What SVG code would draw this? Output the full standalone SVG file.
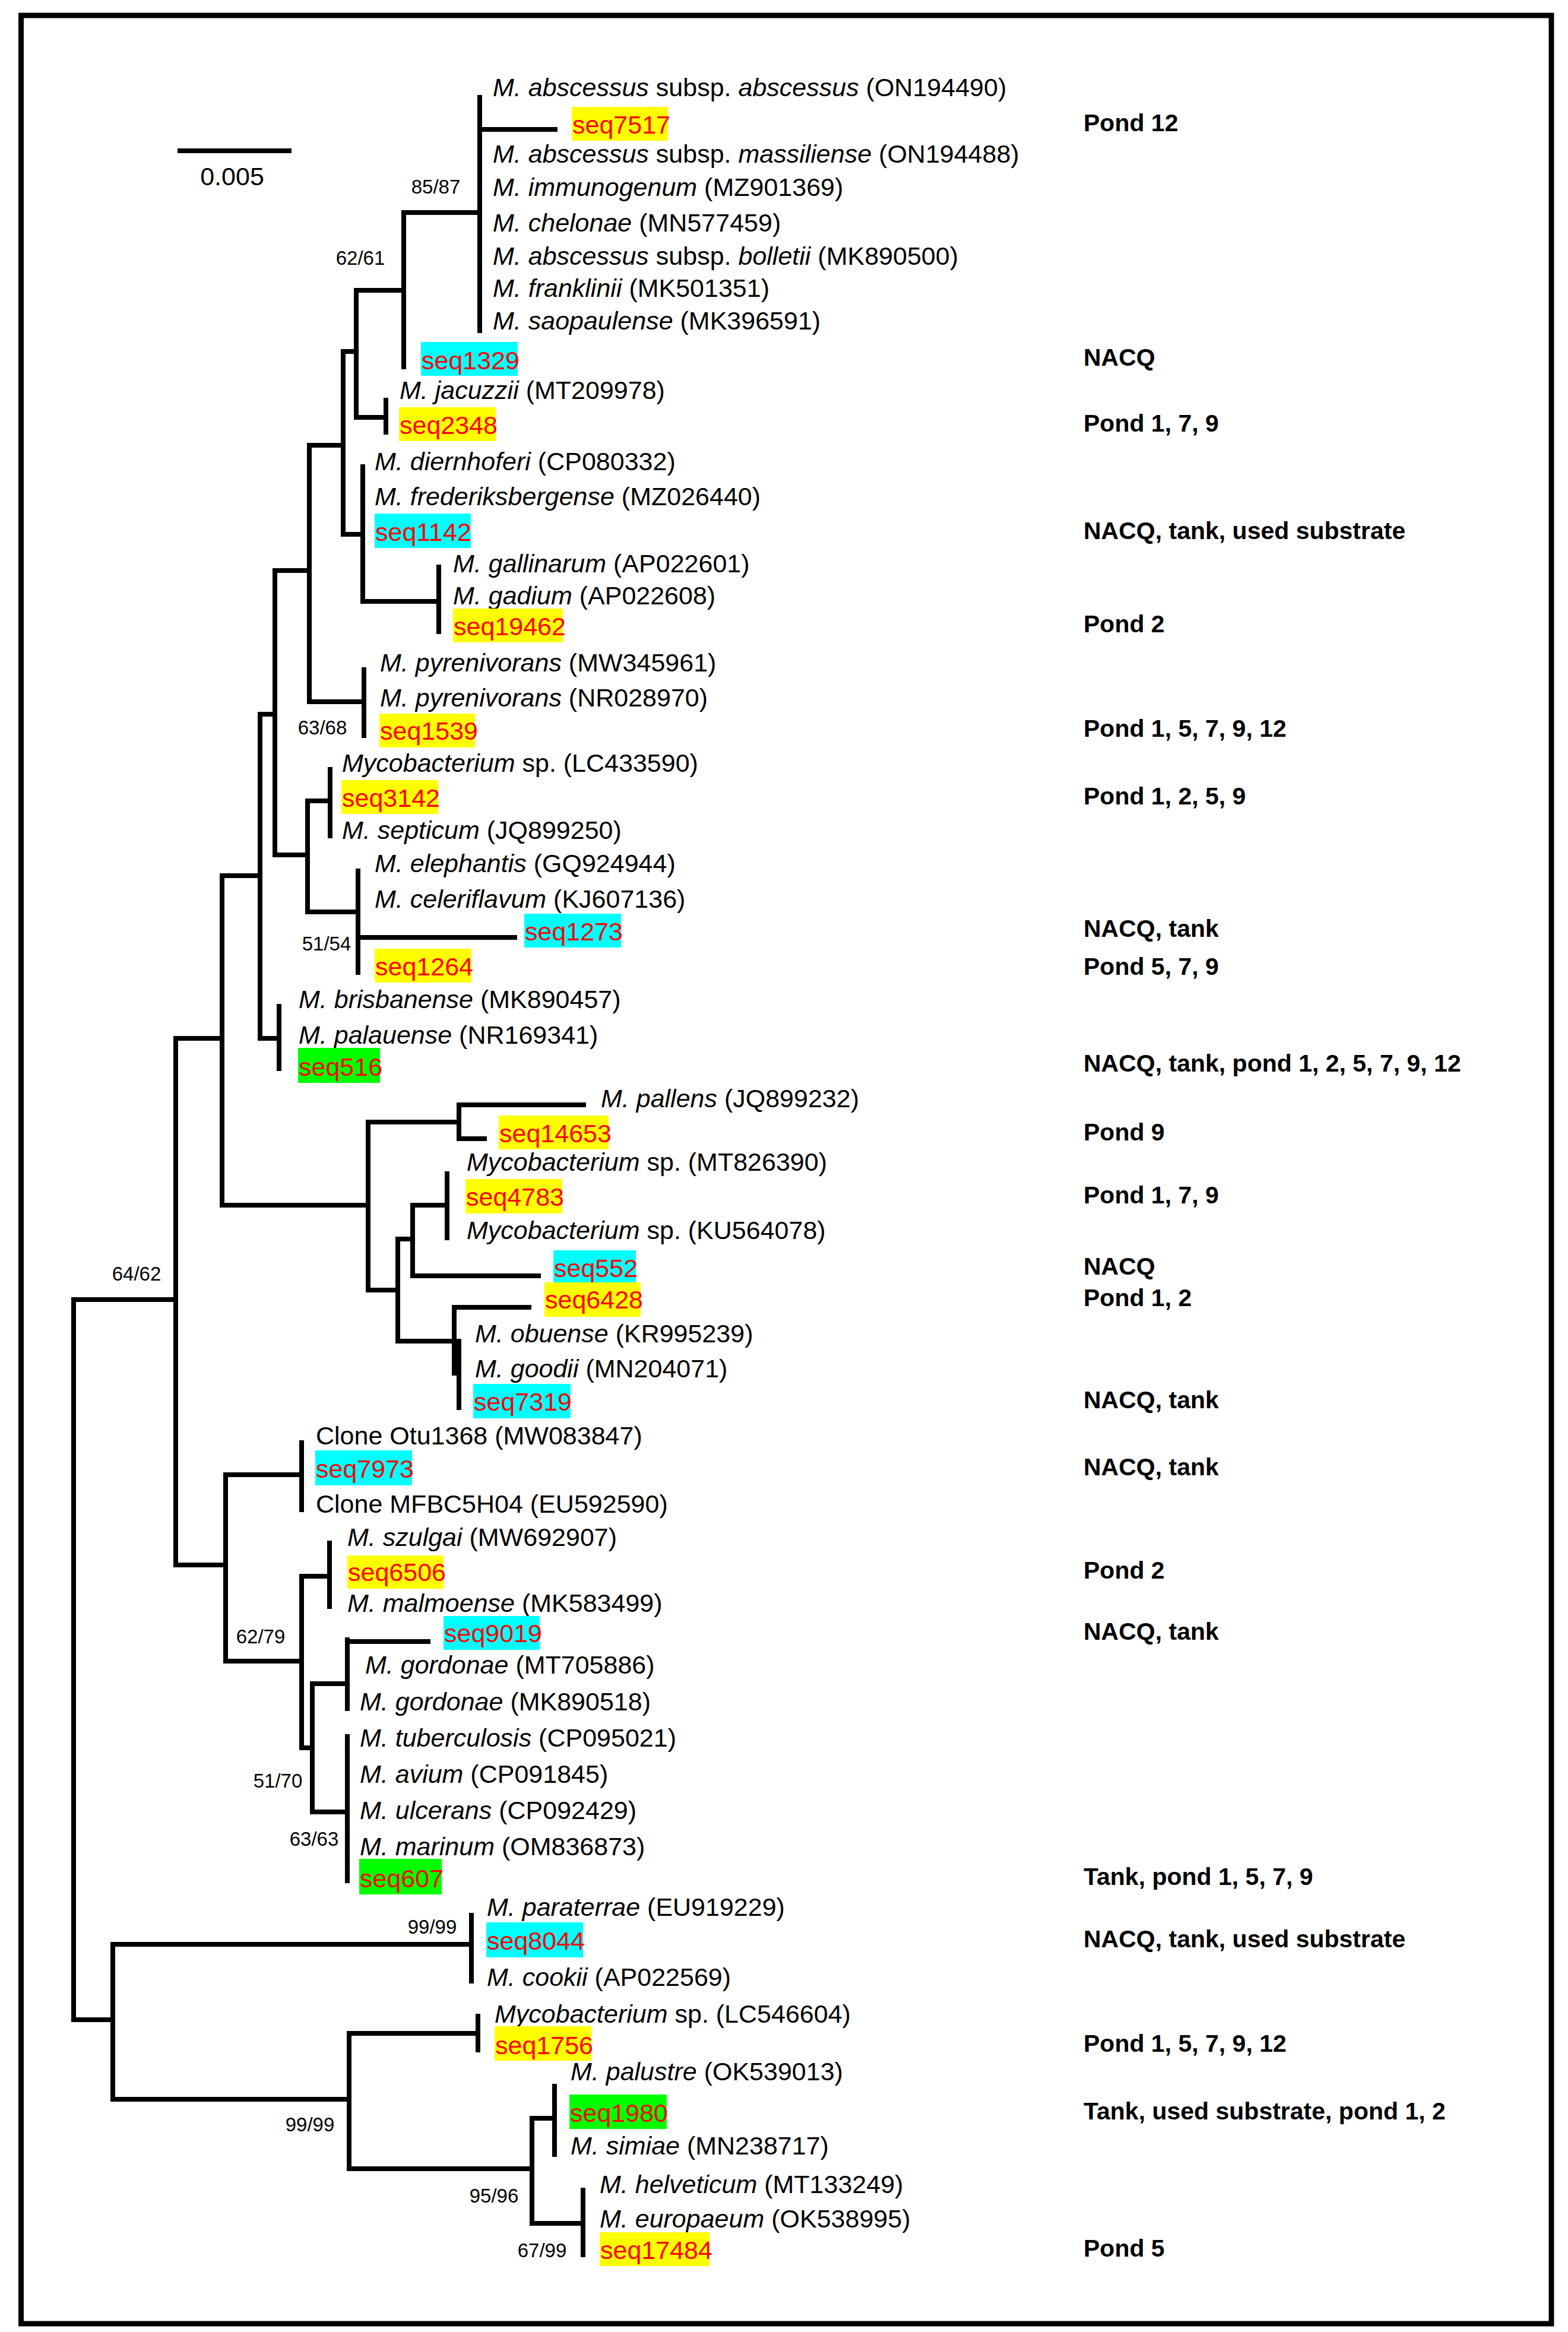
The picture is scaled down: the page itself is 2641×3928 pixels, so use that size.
<svg xmlns="http://www.w3.org/2000/svg" width="2641" height="3928" viewBox="0 0 2641 3928">
<style>
text{font-family:"Liberation Sans",Arial,sans-serif;fill:#000}
.t{font-size:43px}
.i{font-style:italic}
.s{font-size:43px;fill:#ff0000}
.b{font-size:33px;text-anchor:middle}
.l{font-size:41px;font-weight:bold}
.y{fill:#ffff00}.c{fill:#00ffff}.g{fill:#00ff00}
.br{fill:none;stroke:#000;stroke-width:8;stroke-linecap:square;stroke-linejoin:miter}
</style>
<rect x="35.5" y="26" width="2577.5" height="3888" fill="#fff" stroke="#000" stroke-width="9"/>
<g id="scale">
<path class="br" d="M303 254H487"/>
<text class="t" x="391" y="312" text-anchor="middle">0.005</text>
</g>
<g id="connectors">
<path class="br" d="M808 164V557M808 218H935"/>
<path class="br" d="M808 358H680V618"/>
<path class="br" d="M680 489H600V703H650"/>
<path class="br" d="M650 674V728"/>
<path class="br" d="M600 592H578V900H611"/>
<path class="br" d="M611 786V1013H739"/>
<path class="br" d="M739 955V1064"/>
<path class="br" d="M578 750H521V1182H613"/>
<path class="br" d="M613 1128V1239"/>
<path class="br" d="M521 961H463V1440H518"/>
<path class="br" d="M556 1349H518V1536H603"/>
<path class="br" d="M556 1296V1408"/>
<path class="br" d="M603 1467V1638M603 1579H867"/>
<path class="br" d="M463 1203H438V1749H470"/>
<path class="br" d="M470 1695V1800"/>
<path class="br" d="M438 1475H374V2030H620"/>
<path class="br" d="M773 1890H620V2173H670"/>
<path class="br" d="M773 1861V1918M773 1861H983M773 1918H816"/>
<path class="br" d="M695 2087H670V2259H765"/>
<path class="br" d="M753 2030H695V2149H907"/>
<path class="br" d="M753 1977V2085"/>
<path class="br" d="M891 2202H765V2313H773"/>
<path class="br" d="M773 2259V2371"/>
<path class="br" d="M374 1749H296V2636H380"/>
<path class="br" d="M508 2484H380V2798H508"/>
<path class="br" d="M508 2430V2543"/>
<path class="br" d="M555 2655H508V2944H526"/>
<path class="br" d="M555 2599V2706"/>
<path class="br" d="M585 2836H526V3052H585"/>
<path class="br" d="M585 2762V2878M585 2765H721"/>
<path class="br" d="M585 2925V3168"/>
<path class="br" d="M296 2189H124V3402H190"/>
<path class="br" d="M794 3275H190V3536H588"/>
<path class="br" d="M794 3226V3337"/>
<path class="br" d="M805 3425H588V3653H896"/>
<path class="br" d="M805 3396V3453"/>
<path class="br" d="M934 3568H896V3745H982"/>
<path class="br" d="M934 3514V3629"/>
<path class="br" d="M982 3689V3798"/>
</g>
<g id="support">
<text class="b" x="734" y="326">85/87</text>
<text class="b" x="607" y="446">62/61</text>
<text class="b" x="543" y="1237">63/68</text>
<text class="b" x="550" y="1601">51/54</text>
<text class="b" x="230" y="2157">64/62</text>
<text class="b" x="439" y="2768">62/79</text>
<text class="b" x="468" y="3011">51/70</text>
<text class="b" x="529" y="3109">63/63</text>
<text class="b" x="728" y="3257">99/99</text>
<text class="b" x="522" y="3590">99/99</text>
<text class="b" x="832" y="3710">95/96</text>
<text class="b" x="913" y="3802">67/99</text>
</g>
<g id="n1"><text class="t" x="830" y="162"><tspan class="i">M. abscessus</tspan> subsp. <tspan class="i">abscessus</tspan> (ON194490)</text></g>
<g id="n2"><rect class="y" x="963" y="180" width="162" height="57"/><text class="s" x="964" y="225">seq7517</text><text class="l" x="1825" y="221">Pond 12</text></g>
<g id="n3"><text class="t" x="830" y="274"><tspan class="i">M. abscessus</tspan> subsp. <tspan class="i">massiliense</tspan> (ON194488)</text></g>
<g id="n4"><text class="t" x="830" y="330"><tspan class="i">M. immunogenum</tspan> (MZ901369)</text></g>
<g id="n5"><text class="t" x="830" y="390"><tspan class="i">M. chelonae</tspan> (MN577459)</text></g>
<g id="n6"><text class="t" x="830" y="446"><tspan class="i">M. abscessus</tspan> subsp. <tspan class="i">bolletii</tspan> (MK890500)</text></g>
<g id="n7"><text class="t" x="830" y="500"><tspan class="i">M. franklinii</tspan> (MK501351)</text></g>
<g id="n8"><text class="t" x="830" y="555"><tspan class="i">M. saopaulense</tspan> (MK396591)</text></g>
<g id="n9"><rect class="c" x="709" y="576" width="163" height="57"/><text class="s" x="710" y="622">seq1329</text><text class="l" x="1825" y="616">NACQ</text></g>
<g id="n10"><text class="t" x="673" y="672"><tspan class="i">M. jacuzzii</tspan> (MT209978)</text></g>
<g id="n11"><rect class="y" x="672" y="686" width="163" height="57"/><text class="s" x="673" y="731">seq2348</text><text class="l" x="1825" y="727">Pond 1, 7, 9</text></g>
<g id="n12"><text class="t" x="631" y="792"><tspan class="i">M. diernhoferi</tspan> (CP080332)</text></g>
<g id="n13"><text class="t" x="631" y="851"><tspan class="i">M. frederiksbergense</tspan> (MZ026440)</text></g>
<g id="n14"><rect class="c" x="631" y="865" width="162" height="58"/><text class="s" x="632" y="911">seq1142</text><text class="l" x="1825" y="908">NACQ, tank, used substrate</text></g>
<g id="n15"><text class="t" x="763" y="964"><tspan class="i">M. gallinarum</tspan> (AP022601)</text></g>
<g id="n16"><text class="t" x="763" y="1018"><tspan class="i">M. gadium</tspan> (AP022608)</text></g>
<g id="n17"><rect class="y" x="763" y="1025" width="185" height="57"/><text class="s" x="764" y="1070">seq19462</text><text class="l" x="1825" y="1065">Pond 2</text></g>
<g id="n18"><text class="t" x="640" y="1131"><tspan class="i">M. pyrenivorans</tspan> (MW345961)</text></g>
<g id="n19"><text class="t" x="640" y="1190"><tspan class="i">M. pyrenivorans</tspan> (NR028970)</text></g>
<g id="n20"><rect class="y" x="639" y="1202" width="161" height="57"/><text class="s" x="640" y="1246">seq1539</text><text class="l" x="1825" y="1241">Pond 1, 5, 7, 9, 12</text></g>
<g id="n21"><text class="t" x="576" y="1300"><tspan class="i">Mycobacterium</tspan> sp. (LC433590)</text></g>
<g id="n22"><rect class="y" x="575" y="1314" width="163" height="57"/><text class="s" x="576" y="1359">seq3142</text><text class="l" x="1825" y="1355">Pond 1, 2, 5, 9</text></g>
<g id="n23"><text class="t" x="576" y="1413"><tspan class="i">M. septicum</tspan> (JQ899250)</text></g>
<g id="n24"><text class="t" x="631" y="1469"><tspan class="i">M. elephantis</tspan> (GQ924944)</text></g>
<g id="n25"><text class="t" x="631" y="1529"><tspan class="i">M. celeriflavum</tspan> (KJ607136)</text></g>
<g id="n26"><rect class="c" x="883" y="1539" width="163" height="57"/><text class="s" x="884" y="1584">seq1273</text><text class="l" x="1825" y="1578">NACQ, tank</text></g>
<g id="n27"><rect class="y" x="631" y="1598" width="163" height="57"/><text class="s" x="632" y="1643">seq1264</text><text class="l" x="1825" y="1642">Pond 5, 7, 9</text></g>
<g id="n28"><text class="t" x="503" y="1698"><tspan class="i">M. brisbanense</tspan> (MK890457)</text></g>
<g id="n29"><text class="t" x="503" y="1758"><tspan class="i">M. palauense</tspan> (NR169341)</text></g>
<g id="n30"><rect class="g" x="502" y="1765" width="138" height="59"/><text class="s" x="503" y="1812">seq516</text><text class="l" x="1825" y="1805">NACQ, tank, pond 1, 2, 5, 7, 9, 12</text></g>
<g id="n31"><text class="t" x="1012" y="1865"><tspan class="i">M. pallens</tspan> (JQ899232)</text></g>
<g id="n32"><rect class="y" x="840" y="1879" width="185" height="57"/><text class="s" x="841" y="1924">seq14653</text><text class="l" x="1825" y="1921">Pond 9</text></g>
<g id="n33"><text class="t" x="786" y="1972"><tspan class="i">Mycobacterium</tspan> sp. (MT826390)</text></g>
<g id="n34"><rect class="y" x="784" y="1986" width="163" height="58"/><text class="s" x="785" y="2031">seq4783</text><text class="l" x="1825" y="2027">Pond 1, 7, 9</text></g>
<g id="n35"><text class="t" x="786" y="2087"><tspan class="i">Mycobacterium</tspan> sp. (KU564078)</text></g>
<g id="n36"><rect class="c" x="932" y="2106" width="139" height="59"/><text class="s" x="933" y="2151">seq552</text><text class="l" x="1825" y="2147">NACQ</text></g>
<g id="n37"><rect class="y" x="917" y="2160" width="162" height="58"/><text class="s" x="918" y="2204">seq6428</text><text class="l" x="1825" y="2200">Pond 1, 2</text></g>
<g id="n38"><text class="t" x="800" y="2261"><tspan class="i">M. obuense</tspan> (KR995239)</text></g>
<g id="n39"><text class="t" x="800" y="2320"><tspan class="i">M. goodii</tspan> (MN204071)</text></g>
<g id="n40"><rect class="c" x="797" y="2331" width="164" height="58"/><text class="s" x="798" y="2376">seq7319</text><text class="l" x="1825" y="2372">NACQ, tank</text></g>
<g id="n41"><text class="t" x="532" y="2433">Clone Otu1368 (MW083847)</text></g>
<g id="n42"><rect class="c" x="531" y="2443" width="163" height="59"/><text class="s" x="532" y="2489">seq7973</text><text class="l" x="1825" y="2485">NACQ, tank</text></g>
<g id="n43"><text class="t" x="532" y="2548">Clone MFBC5H04 (EU592590)</text></g>
<g id="n44"><text class="t" x="585" y="2604"><tspan class="i">M. szulgai</tspan> (MW692907)</text></g>
<g id="n45"><rect class="y" x="585" y="2620" width="162" height="56"/><text class="s" x="586" y="2663">seq6506</text><text class="l" x="1825" y="2659">Pond 2</text></g>
<g id="n46"><text class="t" x="585" y="2715"><tspan class="i">M. malmoense</tspan> (MK583499)</text></g>
<g id="n47"><rect class="c" x="747" y="2722" width="162" height="57"/><text class="s" x="748" y="2766">seq9019</text><text class="l" x="1825" y="2762">NACQ, tank</text></g>
<g id="n48"><text class="t" x="615" y="2819"><tspan class="i">M. gordonae</tspan> (MT705886)</text></g>
<g id="n49"><text class="t" x="606" y="2881"><tspan class="i">M. gordonae</tspan> (MK890518)</text></g>
<g id="n50"><text class="t" x="606" y="2942"><tspan class="i">M. tuberculosis</tspan> (CP095021)</text></g>
<g id="n51"><text class="t" x="606" y="3003"><tspan class="i">M. avium</tspan> (CP091845)</text></g>
<g id="n52"><text class="t" x="606" y="3064"><tspan class="i">M. ulcerans</tspan> (CP092429)</text></g>
<g id="n53"><text class="t" x="606" y="3125"><tspan class="i">M. marinum</tspan> (OM836873)</text></g>
<g id="n54"><rect class="g" x="605" y="3131" width="139" height="60"/><text class="s" x="606" y="3179">seq607</text><text class="l" x="1825" y="3175">Tank, pond 1, 5, 7, 9</text></g>
<g id="n55"><text class="t" x="820" y="3227"><tspan class="i">M. paraterrae</tspan> (EU919229)</text></g>
<g id="n56"><rect class="c" x="819" y="3238" width="163" height="59"/><text class="s" x="820" y="3284">seq8044</text><text class="l" x="1825" y="3280">NACQ, tank, used substrate</text></g>
<g id="n57"><text class="t" x="820" y="3345"><tspan class="i">M. cookii</tspan> (AP022569)</text></g>
<g id="n58"><text class="t" x="833" y="3407"><tspan class="i">Mycobacterium</tspan> sp. (LC546604)</text></g>
<g id="n59"><rect class="y" x="833" y="3413" width="163" height="58"/><text class="s" x="834" y="3460">seq1756</text><text class="l" x="1825" y="3456">Pond 1, 5, 7, 9, 12</text></g>
<g id="n60"><text class="t" x="961" y="3504"><tspan class="i">M. palustre</tspan> (OK539013)</text></g>
<g id="n61"><rect class="g" x="959" y="3528" width="164" height="58"/><text class="s" x="960" y="3574">seq1980</text><text class="l" x="1825" y="3570">Tank, used substrate, pond 1, 2</text></g>
<g id="n62"><text class="t" x="961" y="3629"><tspan class="i">M. simiae</tspan> (MN238717)</text></g>
<g id="n63"><text class="t" x="1010" y="3694"><tspan class="i">M. helveticum</tspan> (MT133249)</text></g>
<g id="n64"><text class="t" x="1010" y="3752"><tspan class="i">M. europaeum</tspan> (OK538995)</text></g>
<g id="n65"><rect class="y" x="1010" y="3760" width="185" height="57"/><text class="s" x="1011" y="3805">seq17484</text><text class="l" x="1825" y="3801">Pond 5</text></g>
</svg>
